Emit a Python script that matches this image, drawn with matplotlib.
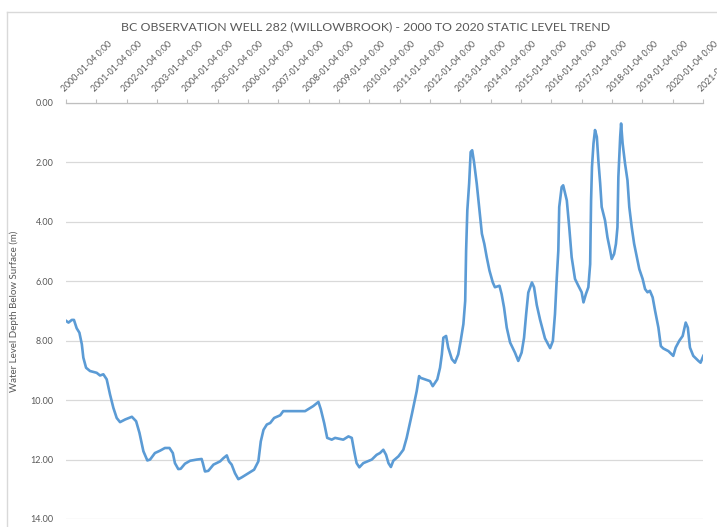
import numpy as np
import pandas as pd
import matplotlib
matplotlib.use("Agg")
import matplotlib.pyplot as plt
from matplotlib.lines import Line2D

# Readings (decimal year, depth below surface in m)
years = [
    2000.01, 2000.09, 2000.20, 2000.27, 2000.36, 2000.45, 2000.53, 2000.58, 2000.67, 2000.80,
    2001.02, 2001.13, 2001.24, 2001.35, 2001.46, 2001.57, 2001.68, 2001.79, 2001.96,
    2002.18, 2002.32, 2002.43, 2002.56, 2002.69, 2002.78, 2002.94,
    2003.11, 2003.27, 2003.42, 2003.53, 2003.60, 2003.71, 2003.79, 2003.93,
    2004.10, 2004.32, 2004.48, 2004.52, 2004.59, 2004.70, 2004.87,
    2005.09, 2005.20, 2005.31, 2005.38, 2005.47, 2005.58, 2005.69, 2005.80,
    2006.02, 2006.21, 2006.35, 2006.43, 2006.52, 2006.63, 2006.74, 2006.87,
    2007.07, 2007.17, 2007.89, 2008.16, 2008.33, 2008.41, 2008.52, 2008.62, 2008.77, 2008.88,
    2009.15, 2009.32, 2009.43, 2009.51, 2009.59, 2009.68, 2009.81,
    2010.09, 2010.25, 2010.36, 2010.47, 2010.56, 2010.64, 2010.72, 2010.80, 2010.97,
    2011.13, 2011.24, 2011.41, 2011.57, 2011.65, 2011.70,
    2012.01, 2012.10, 2012.25, 2012.34, 2012.40, 2012.45, 2012.54, 2012.61, 2012.73, 2012.83, 2012.94,
    2013.02, 2013.11, 2013.17, 2013.20, 2013.24, 2013.30, 2013.35, 2013.40, 2013.46, 2013.55,
    2013.64, 2013.72, 2013.80, 2013.88, 2013.97,
    2014.08, 2014.15, 2014.30, 2014.37, 2014.45, 2014.54, 2014.65, 2014.81, 2014.92,
    2015.03, 2015.11, 2015.18, 2015.25, 2015.37, 2015.44, 2015.53, 2015.64, 2015.80, 2015.97,
    2016.06, 2016.13, 2016.19, 2016.24, 2016.27, 2016.35, 2016.40, 2016.52, 2016.60, 2016.68,
    2016.79, 2016.90,
    2017.01, 2017.07, 2017.15, 2017.23, 2017.29, 2017.32, 2017.35, 2017.40, 2017.45, 2017.51,
    2017.56, 2017.62, 2017.67, 2017.78, 2017.86, 2017.95,
    2018.00, 2018.08, 2018.14, 2018.19, 2018.22, 2018.28, 2018.31, 2018.36, 2018.44, 2018.52,
    2018.58, 2018.66, 2018.74, 2018.83, 2018.91,
    2019.02, 2019.10, 2019.18, 2019.26, 2019.35, 2019.43, 2019.54, 2019.62, 2019.70, 2019.87,
    2020.03, 2020.11, 2020.23, 2020.34, 2020.44, 2020.51, 2020.58, 2020.69, 2020.86, 2020.93,
    2021.02,
]
depth = [
    7.33, 7.39, 7.30, 7.30, 7.58, 7.73, 8.12, 8.57, 8.91, 9.02,
    9.08, 9.17, 9.13, 9.30, 9.81, 10.26, 10.60, 10.74, 10.65,
    10.56, 10.71, 11.10, 11.72, 12.03, 12.00, 11.78,
    11.70, 11.61, 11.61, 11.78, 12.12, 12.32, 12.31, 12.14,
    12.04, 12.00, 11.98, 12.12, 12.40, 12.38, 12.17,
    12.06, 11.95, 11.86, 12.06, 12.17, 12.46, 12.66, 12.60,
    12.46, 12.34, 12.06, 11.39, 11.00, 10.82, 10.77, 10.60,
    10.51, 10.37, 10.37, 10.20, 10.06, 10.31, 10.77, 11.27, 11.33, 11.27,
    11.33, 11.22, 11.27, 11.72, 12.12, 12.26, 12.12,
    12.00, 11.84, 11.78, 11.67, 11.84, 12.12, 12.25, 12.04, 11.89,
    11.67, 11.27, 10.48, 9.70, 9.19, 9.25,
    9.36, 9.53, 9.30, 8.91, 8.46, 7.90, 7.84, 8.23, 8.62, 8.74, 8.46,
    8.01, 7.44, 6.66, 4.97, 3.61, 2.71, 1.65, 1.59, 1.98, 2.71,
    3.61, 4.40, 4.74, 5.19, 5.64,
    6.04, 6.20, 6.15, 6.43, 6.88, 7.56, 8.06, 8.40, 8.68,
    8.40, 7.90, 7.10, 6.38, 6.04, 6.20, 6.80, 7.30, 7.92, 8.25,
    8.01, 7.10, 5.87, 4.97, 3.50, 2.83, 2.77, 3.28, 4.18, 5.19,
    5.92, 6.15,
    6.37, 6.71, 6.43, 6.20, 5.42, 3.28, 2.15, 1.36, 0.91, 1.14,
    1.93, 2.71, 3.50, 3.95, 4.52, 4.97,
    5.25, 5.08, 4.74, 4.18, 2.49, 1.14, 0.69, 1.36, 2.04, 2.60,
    3.50, 4.18, 4.74, 5.19, 5.59,
    5.92, 6.26, 6.37, 6.32, 6.54, 6.99, 7.56, 8.18, 8.26, 8.35,
    8.51, 8.23, 8.00, 7.84, 7.39, 7.56, 8.23, 8.51, 8.68, 8.74,
    8.51,
]
tick_years = list(range(2000, 2022))
y_ticks = [0, 2, 4, 6, 8, 10, 12, 14]

title = "BC OBSERVATION WELL 282 (WILLOWBROOK) - 2000 TO 2020 STATIC LEVEL TREND"
y_label = "Water Level Depth Below Surface (m)"

plt.rcParams['font.family'] = ['Lato', 'DejaVu Sans']
text_gray = '#595959'
grid_gray = '#D9D9D9'

dates = pd.Timestamp('2000-01-01') + pd.to_timedelta((np.array(years) - 2000) * 365.25, unit='D')
tick_dates = [pd.Timestamp(f'{y}-01-04') for y in tick_years]

fig = plt.figure(figsize=(7.17, 5.27), dpi=100)
ax = fig.add_axes([66 / 717, 1 - 519 / 527, 637 / 717, 416 / 527])

ax.plot(dates, depth, color='#5B9BD5', linewidth=1.9, solid_joinstyle='round')

ax.set_xlim(tick_dates[0], tick_dates[-1])
ax.set_ylim(14, 0)
ax.set_yticks(y_ticks)
ax.yaxis.set_major_formatter(plt.FuncFormatter(lambda v, p: f'{v:.2f}'))
ax.grid(axis='y', color=grid_gray, linewidth=0.9)
ax.set_axisbelow(True)

# date labels sit on the top axis, tilted up to the right
ax.xaxis.tick_top()
ax.set_xticks(tick_dates)
ax.set_xticklabels([d.strftime('%Y-%m-%d') + ' 0:00' for d in tick_dates])
for lbl in ax.get_xticklabels():
    lbl.set_rotation(45)
    lbl.set_rotation_mode('anchor')
    lbl.set_ha('left')
    lbl.set_va('bottom')
ax.tick_params(axis='x', colors='#BFBFBF', labelcolor=text_gray, labelsize=6.3,
               length=3, width=0.8, pad=4)
ax.tick_params(axis='y', length=0, labelcolor=text_gray, labelsize=6.5, pad=9)

for s in ['left', 'right', 'bottom']:
    ax.spines[s].set_visible(False)
ax.spines['top'].set_color('#BFBFBF')
ax.spines['top'].set_linewidth(0.9)

ax.set_ylabel(y_label, color=text_gray, fontsize=7, labelpad=8)
fig.text(366 / 717, 1 - 27 / 527, title, ha='center', va='center',
         color=text_gray, fontsize=8.9)

# chart-area frame, as in the spreadsheet export
fig.add_artist(Line2D([7 / 717, 1.0], [1 - 12 / 527] * 2, color=grid_gray, linewidth=1))
fig.add_artist(Line2D([7 / 717] * 2, [0.0, 1 - 12 / 527], color=grid_gray, linewidth=1))

fig.savefig('out.png', dpi=100)
